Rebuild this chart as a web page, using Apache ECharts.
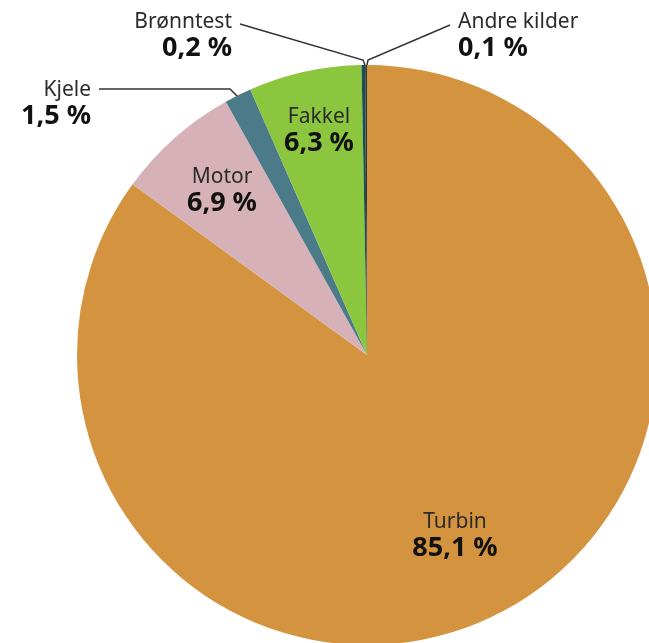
<!DOCTYPE html>
<html>
<head>
    <meta charset="utf-8" />
    <script src="https://cdn.jsdelivr.net/npm/echarts@6/dist/echarts.min.js"></script>
    <style>
        html, body { margin: 0; padding: 0; background: #fff; }
        #kilder { width: 649px; height: 643px; }
    </style>
</head>
<body>
    <div id="kilder"></div>
<script type="text/javascript">
    // andel utslipp per kilde (%)
    var names = ['Turbin', 'Motor', 'Kjele', 'Fakkel', 'Brønntest', 'Andre kilder'];
    var values = [85.1, 6.9, 1.5, 6.3, 0.2, 0.1];
    var colors = ['#d4933f', '#d6b2b8', '#4b7b89', '#8cc63f', '#1e4a52', '#2a3a30'];
    var outside = [false, false, true, false, true, true];

    // plassering av etiketter (x, y, justering) og knekkpunkter for linjer
    var spots = [
        [455, 535, 'center'],
        [222, 190, 'center'],
        [91, 103, 'right'],
        [319, 130, 'center'],
        [232, 35, 'right'],
        [458, 35, 'left']
    ];
    var lines = [
        null, null,
        [[238, 97], [230, 89], [99, 89]],
        null,
        [[365, 65], [363, 60], [240, 24]],
        [[367, 65], [368, 60], [450, 25]]
    ];

    var data = [];
    for (var i = 0; i < names.length; i++) {
        data.push({
            name: names[i],
            value: values[i],
            itemStyle: { color: colors[i] },
            labelLine: { show: outside[i] }
        });
    }

    var chart = echarts.init(document.getElementById('kilder'));
    var option = {
        backgroundColor: '#ffffff',
        animation: false,
        series: [{
            type: 'pie',
            center: [367, 355],
            radius: 290,
            startAngle: 90,
            clockwise: true,
            avoidLabelOverlap: false,
            data: data,
            itemStyle: { borderWidth: 0 },
            label: {
                position: 'outside',
                formatter: function (p) {
                    return '{n|' + p.name + '}\n{v|' + p.value.toFixed(1).replace('.', ',') + ' %}';
                },
                rich: {
                    n: { fontFamily: 'Noto Sans', fontSize: 21, color: '#2b2b2b', lineHeight: 26 },
                    v: { fontFamily: 'Noto Sans', fontSize: 27, fontWeight: 'bold', color: '#111', lineHeight: 26 }
                }
            },
            labelLine: {
                lineStyle: { color: '#333', width: 1.5 }
            },
            labelLayout: function (p) {
                var s = spots[p.dataIndex];
                var out = { x: s[0], y: s[1], align: s[2], verticalAlign: 'middle' };
                if (lines[p.dataIndex]) out.labelLinePoints = lines[p.dataIndex];
                return out;
            }
        }]
    };
    chart.setOption(option);
</script>
</body>
</html>
